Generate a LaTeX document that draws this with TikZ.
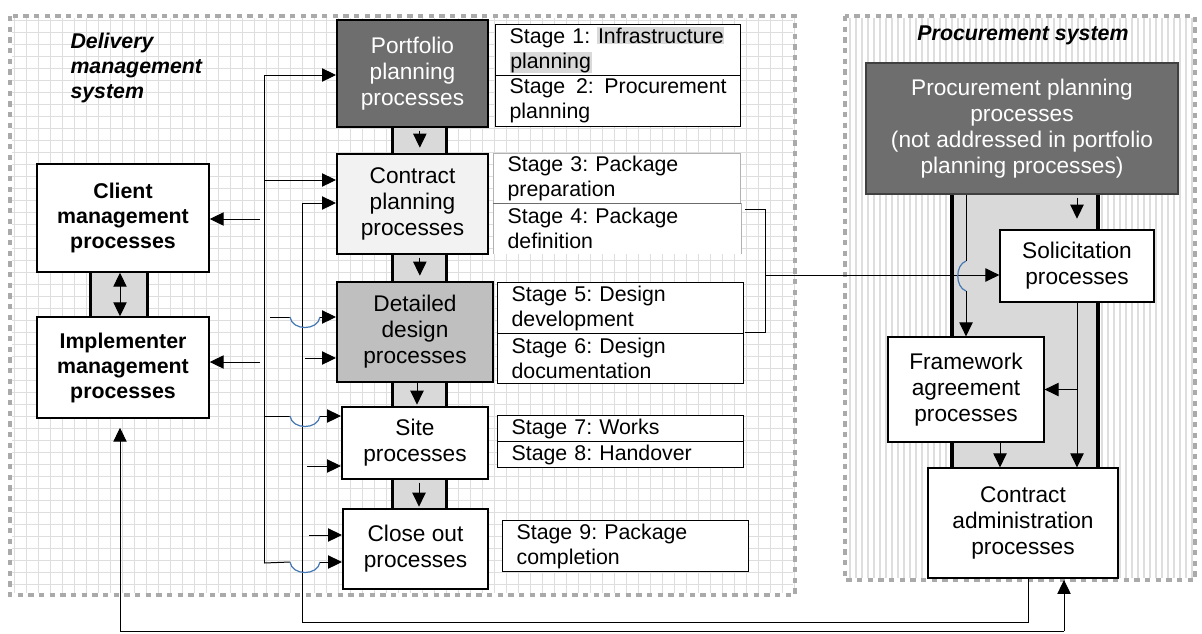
\documentclass[tikz,border=0pt]{standalone}
\usepackage{fontspec}
\setmainfont{Liberation Sans}
\usetikzlibrary{arrows.meta}

\definecolor{darkbox}{RGB}{110,110,110}
\definecolor{midbox}{RGB}{191,191,191}
\definecolor{lightbox}{RGB}{242,242,242}
\definecolor{pipegrey}{RGB}{217,217,217}
\definecolor{gridgrey}{RGB}{222,222,222}
\definecolor{framegrey}{RGB}{170,170,170}
\definecolor{hopblue}{RGB}{70,120,180}
\newcommand{\hlg}[1]{{\setlength{\fboxsep}{0.5pt}\colorbox{pipegrey}{#1}}}
\frenchspacing

\tikzset{every picture/.style={line width=0.75pt}}

\begin{document}
\begin{tikzpicture}[x=0.75pt,y=0.75pt,yscale=-1,xscale=1,
  every node/.style={font=\fontsize{16}{18.75}\selectfont},
  proc/.style={draw, line width=1.5pt, align=center, inner sep=0pt, font=\fontsize{17}{19.5}\selectfont},
  sideproc/.style={draw, fill=white, line width=1.1pt, align=center, inner sep=0pt, font=\fontsize{16}{18.75}\selectfont\bfseries},
  subproc/.style={draw, fill=white, line width=0.9pt, align=center, inner sep=0pt, font=\fontsize{17}{19.5}\selectfont},
  stagebox/.style={draw, fill=white, line width=0.9pt, align=left, inner xsep=10.5pt, inner ysep=0pt, anchor=north west},
  flow/.style={-{Triangle[length=10.5pt,width=10pt]}},
  hopline/.style={draw=hopblue, line width=0.9pt},
  panel/.style={draw=framegrey, line width=3.5pt, dash pattern=on 4pt off 4pt}
]
\useasboundingbox (0,0) rectangle (1202,633);
\fill[white] (0,0) rectangle (1202,633);

%Shape: Grid (delivery side)
\foreach \gx in {14,26,...,794} \draw[gridgrey] (\gx,18) -- (\gx,593);
\foreach \gy in {20,32,...,592} \draw[gridgrey] (12,\gy) -- (793,\gy);
%Shape: Stripes (procurement side)
\foreach \gx in {850,856,...,1192} \draw[gridgrey, line width=1.1pt] (\gx,18) -- (\gx,578);

%Shape: Panels
\draw[panel] (10,16) rectangle (795,595);
\draw[panel] (845,16) rectangle (1195,580);

%Shape: Pipes between process boxes
\foreach \ya/\yb in {127/154,254/282,382/407,479/509} {
  \fill[pipegrey] (392,\ya) rectangle (446,\yb);
  \draw[line width=2.25pt] (392,\ya) -- (392,\yb) (446,\ya) -- (446,\yb);
}
\fill[pipegrey] (90,272) rectangle (147,317);
\draw[line width=2.25pt] (90,272) -- (90,317) (147,272) -- (147,317);
\fill[pipegrey] (952,194) rectangle (1098,468);
\draw[line width=3pt] (952,194) -- (952,468) (1098,194) -- (1098,468);

% Text Node
\node[anchor=north west, align=left, inner sep=0pt, font=\fontsize{16}{18.5}\selectfont\bfseries\itshape] (dtitle) at (70,33) {Delivery\\management\\system};
% Text Node
\node[inner sep=0pt, font=\fontsize{16}{18.75}\selectfont\bfseries\itshape] (ptitle) at (1023,35) {Procurement system};

%Process boxes
\node[proc, fill=darkbox, text=white, minimum width=113.25pt, minimum height=80.25pt] (port) at (412.5,73.5) {Portfolio\\planning\\processes};
\node[proc, fill=lightbox, minimum width=113.25pt, minimum height=75pt] (cplan) at (412.5,204) {Contract\\planning\\processes};
\node[proc, fill=midbox, minimum width=117pt, minimum height=75pt] (detd) at (415,332) {Detailed\\design\\processes};
\node[proc, fill=white, minimum width=109.5pt, minimum height=54pt] (site) at (415,443) {Site\\processes};
\node[proc, fill=white, minimum width=108.75pt, minimum height=60pt] (close) at (415.5,549) {Close out\\processes};

\node[sideproc, minimum width=129pt, minimum height=81pt] (client) at (123,218) {Client\\management\\processes};
\node[sideproc, minimum width=129pt, minimum height=75.75pt] (impl) at (123,367.5) {Implementer\\management\\processes};

%Stage boxes
\node[stagebox, text width=162.75pt, minimum height=38.25pt] (st1) at (495,24) {Stage 1: \hlg{Infrastructure}\\\hlg{planning}};
\node[stagebox, text width=162.75pt, minimum height=38.25pt, align=justify] (st2) at (495,75) {Stage 2: Procurement planning};
\node[stagebox, draw=gray!60, text width=164.25pt, minimum height=37.5pt] (st3) at (493,153) {Stage 3: Package\\preparation};
\node[stagebox, draw=none, text width=164.25pt, minimum height=37.5pt] (st4) at (493,203) {Stage 4: Package\\definition};
\draw[gray!60] (st4.south west) -- (st4.north west) (st4.north east) -- (st4.south east);
\draw[gray!85!black] (st4.north west) -- (st4.north east);
\node[stagebox, text width=163.5pt, minimum height=38.25pt] (st5) at (497,282) {Stage 5: Design\\development};
\node[stagebox, text width=163.5pt, minimum height=37.5pt] (st6) at (497,333) {Stage 6: Design\\documentation};
\node[stagebox, text width=163.5pt, minimum height=19.5pt] (st7) at (497,415) {Stage 7: Works};
\node[stagebox, text width=163.5pt, minimum height=19.5pt] (st8) at (497,441) {Stage 8: Handover};
\node[stagebox, text width=163.5pt, minimum height=38.25pt] (st9) at (502,520) {Stage 9: Package\\completion};

%Procurement boxes
\node[proc, line width=0.9pt, draw=black!75, fill=darkbox, text=white, minimum width=234pt, minimum height=98.25pt] (pplan) at (1022,128.5) {Procurement planning\\processes\\(not addressed in portfolio\\planning processes)};
\node[subproc, minimum width=115.5pt, minimum height=54pt] (solic) at (1077,266) {Solicitation\\processes};
\node[subproc, minimum width=117pt, minimum height=78.75pt] (frame) at (966,389.5) {Framework\\agreement\\processes};
\node[subproc, minimum width=142.5pt, minimum height=82.5pt] (cadmin) at (1023,523) {Contract\\administration\\processes};

%Arrows down the pipes
\draw[flow, shorten <=2pt, shorten >=4pt] ([xshift=5.5pt]port.south) -- ([xshift=5.5pt]port.south |- cplan.north);
\draw[flow, shorten <=2pt, shorten >=4pt] ([xshift=5.5pt]cplan.south) -- ([xshift=5.5pt]cplan.south |- detd.north);
\draw[flow, shorten >=1pt] ([xshift=1.5pt]detd.south) -- ([xshift=1.5pt]detd.south |- site.north);
\draw[flow, shorten <=2pt, shorten >=1pt] ([xshift=3pt]site.south) -- ([xshift=3pt]site.south |- close.north);
\draw[{Triangle[length=10.5pt,width=10pt]}-{Triangle[length=10.5pt,width=10pt]}] ([xshift=-2.25pt]client.south) -- ([xshift=-2.25pt]impl.north);

%Straight Lines: left bus
\coordinate (busTop) at (264,75);
\coordinate (busBot) at (264,563);
\coordinate (busC) at (264,180);
\coordinate (busL1) at (260,219);
\coordinate (busL2) at (260,362);
\draw (busTop) -- (busBot);
\draw[flow] (busTop) -- (busTop -| port.west);
\draw[flow] (busC) -- (busC -| cplan.west);
\draw[flow] (busL1) -- (busL1 -| client.east);
\draw[flow] (busL2) -- (busL2 -| impl.east);

%Straight Lines: return line from contract administration
\coordinate (retTop) at (302,203);
\coordinate (retBot) at (302,622);
\coordinate (retEnd) at (1028,622);
\draw[flow] (retEnd |- cadmin.south) -- (retEnd) -- (retBot) -- (retTop) -- (retTop -| cplan.west);
\coordinate (retD) at (305,358);
\coordinate (retS) at (307,466);
\coordinate (retC) at (309,535);
\draw[flow] (retD) -- (retD -| detd.west);
\draw[flow] (retS) -- (retS -| site.west);
\draw[flow] (retC) -- (retC -| close.west);

%Curve Lines: jumps over the return line
\coordinate (jd) at (320,317);
\draw (270,317) -- (290,317);
\draw[hopline] (290,317) .. controls (292,331) and (318,331) .. (320,317);
\draw[flow] (jd) -- (jd -| detd.west);
\coordinate (js) at (320,416);
\draw (264,416) -- (290,416);
\draw[hopline] (290,416) .. controls (292,430) and (318,430) .. (320,416);
\draw[flow] (js) -- (js -| site.west);
\coordinate (jc) at (320,562);
\draw (busBot) -- (290,562);
\draw[hopline] (290,562) .. controls (292,576) and (318,576) .. (320,562);
\draw[flow] (jc) -- (jc -| close.west);

%Straight Lines: bottom loop
\coordinate (loopL) at (120,631);
\coordinate (loopR) at (1064,631);
\draw[flow, shorten >=6.75pt] (loopR) -- (loopL) -- (loopL |- impl.south);
\draw[flow, shorten >=1pt] (loopR) -- (loopR |- cadmin.south);

%Straight Lines: bracket to solicitation
\coordinate (brA) at (745,209);
\coordinate (brB) at (765,209);
\coordinate (brC) at (765,332);
\coordinate (brD) at (745,332);
\coordinate (brM) at (765,275);
\draw (brA) -- (brB) -- (brC) -- (brD);
\draw[flow] (brM) -- (brM -| solic.west);

%Procurement flows
\draw[flow, shorten <=2.25pt, shorten >=8pt] (solic.north |- pplan.south) -- (solic.north);
\coordinate (jA) at (966,261);
\coordinate (jB) at (966,291);
\draw (frame.north |- pplan.south) -- (jA);
\draw[hopline] (jA) .. controls (955,265) and (955,287) .. (jB);
\draw[flow] (jB) -- (frame.north);
\draw[flow] (solic.south) -- (solic.south |- cadmin.north);
\coordinate (fb) at (solic.south |- frame.east);
\draw[flow] (fb) -- (frame.east);
\coordinate (fs) at ([xshift=25.5pt]frame.south);
\draw[flow] (fs) -- (fs |- cadmin.north);

\end{tikzpicture}
\end{document}
